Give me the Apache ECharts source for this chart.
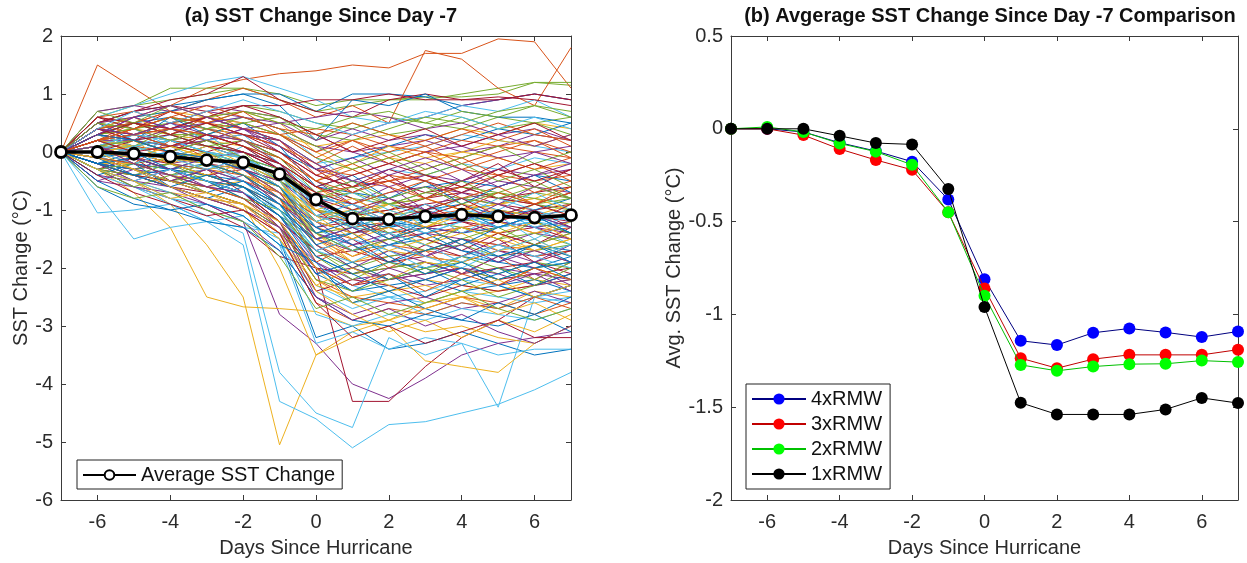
<!DOCTYPE html>
<html><head><meta charset="utf-8">
<script src="https://cdn.jsdelivr.net/npm/echarts@6/dist/echarts.min.js"></script>
<style>html,body{margin:0;padding:0;background:#fff}#c{width:1247px;height:563px}</style>
</head><body><div id="c"></div>
<script>
// ---------- DATA ----------
const days = [-7,-6,-5,-4,-3,-2,-1,0,1,2,3,4,5,6,7];
const xTickLabels = [-6,-4,-2,0,2,4,6];

// (a) average SST change
const avgChange = [0,0.0,-0.03,-0.08,-0.14,-0.18,-0.38,-0.82,-1.15,-1.16,-1.11,-1.08,-1.11,-1.13,-1.09];

// (b) average SST change by radius
const rmw4 = [0,0.0,-0.017,-0.075,-0.12,-0.177,-0.381,-0.81,-1.142,-1.165,-1.099,-1.076,-1.097,-1.122,-1.092];
const rmw3 = [0,0.0,-0.034,-0.109,-0.168,-0.221,-0.45,-0.86,-1.236,-1.29,-1.241,-1.218,-1.218,-1.218,-1.19];
const rmw2 = [0,0.01,-0.017,-0.079,-0.123,-0.194,-0.449,-0.90,-1.272,-1.304,-1.281,-1.268,-1.266,-1.249,-1.257];
const rmw1 = [0,0.0,0.0,-0.038,-0.077,-0.084,-0.324,-0.96,-1.476,-1.539,-1.539,-1.539,-1.512,-1.45,-1.478];

// (a) individual storm SST change tracks (estimated from the figure)
const stormTracks = [
  [0,-0.2,-0.4,-0.6,-0.8,-1.0,-1.5,-3.2,-3.0,-3.4,-3.3,-3.1,-3.3,-3.5,-3.4],
  [0,1.5,1.1,0.7,0.5,0.4,0.2,-0.2,-0.6,-0.5,-0.4,-0.6,-0.8,-0.9,-0.7],
  [0,-0.2,-0.5,-0.9,-1.6,-2.5,-5.05,-3.5,-3.1,-2.9,-2.6,-2.5,-2.7,-2.4,-2.5],
  [0,-0.2,-0.4,-0.6,-0.9,-1.2,-2.8,-3.3,-4.0,-4.25,-3.9,-3.5,-3.3,-3.2,-3.1],
  [0,0.7,0.8,0.9,1.0,1.1,1.0,0.8,0.9,0.9,0.95,0.95,1.0,1.2,1.15],
  [0,-0.3,-0.6,-0.9,-1.2,-1.6,-4.3,-4.6,-5.1,-4.7,-4.65,-4.5,-4.35,-4.1,-3.8],
  [0,-0.3,-0.6,-0.8,-1.0,-1.3,-1.8,-2.0,-4.3,-4.3,-3.7,-3.2,-2.9,-2.5,-2.3],
  [0,0.5,0.7,0.8,0.9,1.0,1.0,0.7,1.0,1.0,0.95,0.8,0.9,1.0,0.9],
  [0,0.4,0.6,0.8,1.1,1.25,1.35,1.4,1.5,1.45,1.7,1.7,1.95,1.9,1.1],
  [0,-0.3,-0.7,-1.3,-2.5,-2.67,-2.7,-2.75,-3.0,-2.9,-3.1,-3.0,-3.2,-3.3,-3.0],
  [0,0.3,0.5,0.4,0.6,0.5,0.3,0.0,0.3,0.5,0.6,0.8,0.9,1.0,0.9],
  [0,0.6,0.8,1.1,1.1,1.1,0.9,0.7,0.8,0.9,0.9,1.0,1.1,1.2,1.2],
  [0,-0.2,-0.5,-0.8,-1.1,-1.4,-3.8,-4.5,-4.75,-3.2,-3.5,-3.3,-4.4,-2.5,-2.3],
  [0,0.1,0.0,-0.1,-0.2,-0.3,-0.5,-0.9,-1.1,-1.0,-0.9,-0.8,-0.9,-1.0,-0.9],
  [0,-0.1,-0.2,-0.3,-0.2,-0.4,-0.6,-1.2,-1.4,-1.3,-1.2,-1.1,-1.2,-1.3,-1.2],
  [0,0.3,0.5,0.7,0.9,1.1,0.9,0.6,0.8,0.5,1.75,1.6,1.1,0.8,1.8],
  [0,-0.1,-0.3,-0.5,-0.7,-0.9,-2.0,-3.5,-3.2,-3.0,-3.6,-3.7,-3.8,-3.3,-3.0],
  [0,0.2,0.1,0.0,-0.1,0.0,-0.3,-0.8,-0.9,-0.7,-0.6,-0.7,-0.5,-0.6,-0.7],
  [0,0.3,0.2,0.1,0.0,-0.2,-0.4,-1.0,-1.3,-1.1,-1.0,-1.2,-1.1,-0.9,-1.0],
  [0,-1.05,-1.0,-0.9,-1.2,-1.3,-1.4,-2.3,-2.6,-2.5,-2.8,-2.6,-2.7,-2.5,-2.6],
  [0,-0.2,-0.1,-0.3,-0.4,-0.3,-0.7,-1.1,-1.2,-1.4,-1.3,-1.2,-1.4,-1.3,-1.5],
  [0,0.0,0.1,0.2,0.1,0.0,-0.2,-0.6,-0.7,-0.8,-0.6,-0.5,-0.6,-0.4,-0.5],
  [0,0.2,0.3,0.2,0.0,-0.1,-0.5,-1.3,-1.5,-1.2,-1.1,-1.0,-0.9,-1.1,-1.0],
  [0,-0.3,-0.4,-0.5,-0.6,-0.5,-0.8,-1.0,-1.1,-1.0,-1.2,-1.1,-1.0,-1.2,-1.1],
  [0,0.1,0.2,0.0,-0.1,-0.2,-0.6,-1.4,-1.6,-1.5,-1.3,-1.4,-1.2,-1.3,-1.4],
  [0,0.4,0.3,0.2,0.3,0.1,-0.1,-0.5,-0.8,-0.9,-0.7,-0.8,-0.9,-0.7,-0.8],
  [0,-0.7,-1.5,-1.3,-1.2,-1.1,-1.6,-3.3,-3.1,-3.4,-3.2,-3.3,-3.5,-3.4,-3.4],
  [0,-0.1,-0.3,-0.2,-0.4,-0.6,-0.9,-1.3,-1.2,-1.1,-1.3,-1.2,-1.3,-1.1,-1.2],
  [0,0.2,0.0,-0.1,0.1,-0.1,-0.3,-0.7,-1.0,-1.2,-1.0,-0.9,-1.1,-1.0,-0.8],
  [0,0.0,-0.2,-0.4,-0.3,-0.5,-0.7,-1.1,-1.3,-1.2,-1.4,-1.3,-1.2,-1.4,-1.3],
  [0,0.3,0.4,0.3,0.2,0.1,-0.2,-0.6,-1.0,-0.9,-0.8,-1.0,-0.9,-0.8,-0.6],
  [0,-0.2,-0.3,-0.1,-0.2,-0.4,-0.8,-1.5,-1.7,-1.5,-1.4,-1.5,-1.6,-1.4,-1.5],
  [0,0.1,0.1,0.2,0.0,-0.3,-0.6,-1.0,-1.1,-0.9,-1.0,-0.8,-0.7,-0.9,-0.8],
  [0,0.6,0.8,1.0,1.2,1.3,1.1,0.9,0.6,0.5,0.6,0.8,0.7,0.9,0.6],
  [0,0.2,0.3,0.4,0.3,0.2,0.0,-0.4,-0.6,-0.5,-0.7,-0.6,-0.8,-0.7,-0.6],
  [0,-0.1,0.0,-0.2,-0.3,-0.2,-0.5,-0.9,-1.2,-1.3,-1.1,-1.2,-1.0,-1.1,-1.3],
  [0,0.3,0.1,0.0,-0.2,-0.4,-0.7,-1.2,-1.4,-1.3,-1.5,-1.3,-1.4,-1.6,-1.4],
  [0,0.0,-0.1,-0.3,-0.5,-0.6,-0.9,-1.2,-1.0,-0.9,-0.8,-1.0,-0.9,-0.8,-1.0],
  [0,0.2,0.2,0.1,0.2,0.3,0.1,-0.3,-0.5,-0.6,-0.4,-0.5,-0.3,-0.4,-0.3],
  [0,-0.2,-0.4,-0.5,-0.4,-0.6,-1.0,-1.4,-1.3,-1.4,-1.2,-1.3,-1.5,-1.4,-1.6],
  [0,0.1,-0.1,0.0,-0.1,-0.2,-0.4,-0.8,-0.9,-1.1,-1.2,-1.0,-1.1,-1.2,-1.1],
  [0,0.4,0.5,0.3,0.1,0.0,-0.3,-0.9,-1.1,-1.0,-0.8,-0.7,-0.8,-0.9,-0.7],
  [0,-0.3,-0.2,-0.4,-0.5,-0.7,-1.1,-1.5,-1.4,-1.2,-1.3,-1.4,-1.3,-1.2,-1.4],
  [0,0.1,0.3,0.2,0.1,-0.1,-0.4,-0.7,-0.6,-0.4,-0.5,-0.3,-0.4,-0.5,-0.4],
  [0,0.0,0.1,-0.1,-0.3,-0.2,-0.6,-1.1,-1.0,-1.2,-1.1,-0.9,-1.0,-1.1,-0.9],
  [0,0.2,0.0,-0.2,-0.1,-0.3,-0.5,-1.0,-1.2,-1.1,-1.3,-1.4,-1.2,-1.3,-1.2],
  [0,-0.1,-0.2,-0.1,0.0,-0.2,-0.5,-0.8,-0.7,-0.9,-0.8,-0.6,-0.7,-0.8,-0.9],
  [0,0.3,0.2,0.3,0.1,-0.1,-0.3,-1.1,-1.3,-1.4,-1.2,-1.1,-1.3,-1.2,-1.3],
  [0,-0.2,-0.4,-0.5,-0.7,-0.9,-1.3,-2.0,-2.3,-2.2,-2.1,-2.0,-2.2,-2.1,-2.0],
  [0,-0.1,-0.2,-0.3,-0.4,-0.5,-0.9,-1.8,-2.1,-1.9,-2.0,-1.8,-1.9,-2.0,-1.8],
  [0,0.1,0.0,-0.2,-0.3,-0.4,-0.8,-1.6,-1.9,-1.8,-1.7,-1.8,-1.6,-1.7,-1.9],
  [0,-0.3,-0.5,-0.7,-0.8,-1.0,-1.5,-2.3,-2.5,-2.4,-2.2,-2.3,-2.4,-2.2,-2.3],
  [0,-0.2,-0.3,-0.4,-0.6,-0.7,-1.1,-1.9,-2.2,-2.1,-2.3,-2.2,-2.0,-2.1,-2.2],
  [0,0.2,0.1,-0.1,-0.2,-0.4,-0.9,-1.7,-2.0,-1.8,-1.7,-1.6,-1.8,-1.7,-1.6],
  [0,-0.4,-0.6,-0.8,-0.9,-1.1,-1.6,-2.4,-2.7,-2.5,-2.6,-2.4,-2.5,-2.6,-2.5],
  [0,0.0,-0.1,-0.2,-0.4,-0.6,-1.0,-1.8,-1.7,-1.9,-1.8,-1.9,-1.7,-1.8,-1.7],
  [0,-0.1,-0.3,-0.5,-0.6,-0.8,-1.2,-2.1,-2.4,-2.3,-2.2,-2.4,-2.3,-2.2,-2.4],
  [0,0.1,0.2,0.0,-0.1,-0.3,-0.7,-1.5,-1.8,-1.6,-1.7,-1.5,-1.6,-1.8,-1.7],
  [0,-0.2,-0.2,-0.4,-0.5,-0.7,-1.2,-2.2,-2.6,-2.4,-2.3,-2.5,-2.4,-2.3,-2.2],
  [0,-0.5,-0.6,-0.7,-0.9,-1.2,-1.7,-2.5,-2.8,-2.6,-2.5,-2.7,-2.6,-2.4,-2.6],
  [0,0.3,0.2,0.1,0.0,-0.2,-0.6,-1.6,-2.0,-2.2,-2.0,-1.9,-2.1,-1.9,-2.0],
  [0,-0.1,-0.2,-0.4,-0.3,-0.5,-1.0,-1.9,-2.3,-2.5,-2.4,-2.2,-2.3,-2.5,-2.4],
  [0,-0.3,-0.4,-0.6,-0.7,-0.9,-1.4,-2.0,-2.1,-2.0,-1.9,-2.1,-2.0,-1.9,-2.1],
  [0,0.0,-0.1,-0.3,-0.5,-0.6,-0.9,-1.4,-1.7,-1.6,-1.5,-1.7,-1.8,-1.6,-1.7],
  [0,-0.2,-0.4,-0.6,-0.8,-1.0,-1.4,-2.6,-2.9,-2.7,-2.8,-2.6,-2.7,-2.5,-2.7],
  [0,0.2,0.3,0.2,0.0,-0.1,-0.5,-1.4,-1.9,-1.7,-1.8,-1.9,-1.7,-1.6,-1.8],
  [0,-0.4,-0.5,-0.6,-0.8,-0.9,-1.3,-2.1,-2.0,-2.2,-2.1,-2.0,-2.1,-2.3,-2.2],
  [0,-0.1,-0.3,-0.2,-0.4,-0.6,-1.1,-1.7,-2.1,-2.0,-1.9,-2.0,-2.2,-2.0,-1.9],
  [0,-0.3,-0.5,-0.7,-1.0,-1.2,-1.5,-2.8,-3.0,-2.8,-2.9,-2.7,-2.8,-2.9,-2.7],
  [0,0.1,-0.1,-0.3,-0.5,-0.7,-1.2,-2.4,-2.2,-2.3,-2.5,-2.3,-2.4,-2.3,-2.1],
  [0,-0.6,-0.9,-1.0,-1.2,-1.3,-1.7,-2.5,-2.9,-3.0,-2.8,-2.9,-3.0,-2.8,-3.1],
  [0,-0.2,-0.3,-0.5,-0.6,-0.8,-1.3,-2.2,-2.5,-2.6,-2.7,-2.5,-2.6,-2.8,-2.6],
  [0,0.5,0.6,0.7,0.6,0.5,0.3,0.1,0.2,0.3,0.2,0.4,0.3,0.5,0.4],
  [0,0.7,0.8,0.7,0.8,0.7,0.6,0.3,0.0,0.1,0.2,0.0,0.1,0.3,0.2],
  [0,0.3,0.4,0.5,0.6,0.8,0.7,0.5,0.4,0.6,0.5,0.4,0.6,0.5,0.6],
  [0,0.2,0.3,0.2,0.4,0.3,0.2,-0.2,-0.1,0.0,0.1,0.3,0.2,0.1,0.0],
  [0,0.5,0.7,0.9,1.0,1.3,0.9,0.7,0.6,0.9,1.0,0.9,0.9,1.0,0.9],
  [0,0.4,0.6,0.7,0.9,1.0,0.8,0.2,0.9,0.8,1.0,0.7,0.6,0.6,0.5],
  [0,0.1,0.3,0.5,0.4,0.3,0.1,-0.3,-0.4,-0.2,0.0,-0.1,0.1,0.2,0.0],
  [0,0.6,0.5,0.4,0.6,0.7,0.5,0.0,-0.3,-0.1,-0.2,0.0,-0.1,-0.3,-0.2],
  [0,0.3,0.2,0.1,0.2,0.4,0.5,0.6,0.7,0.6,0.4,0.5,0.3,0.4,0.2],
  [0,0.4,0.5,0.3,0.3,0.5,0.6,0.3,0.2,0.4,0.6,0.5,0.7,0.8,0.6],
  [0,0.2,0.1,0.3,0.5,0.6,0.4,-0.1,-0.5,-0.3,-0.4,-0.2,-0.3,-0.1,-0.2],
  [0,0.5,0.7,0.8,0.7,0.8,0.8,0.9,0.9,1.0,0.9,0.9,0.95,0.9,0.8],
  [0,0.3,0.5,0.6,0.4,0.2,0.0,-0.3,-0.1,0.1,0.3,0.2,0.4,0.3,0.5],
  [0,0.6,0.7,0.5,0.6,0.4,0.3,0.4,0.3,0.1,0.0,0.2,0.1,0.0,-0.1],
  [0,0.1,0.2,0.4,0.3,0.2,-0.1,-0.5,-0.2,0.1,-0.1,0.0,0.2,0.1,0.3],
  [0,0.4,0.3,0.5,0.7,0.6,0.4,0.1,0.0,-0.2,0.0,0.1,-0.1,0.0,0.1],
  [0,0.5,0.4,0.6,0.5,0.7,0.6,0.2,0.5,0.3,0.4,0.6,0.4,0.5,0.3],
  [0,0.2,0.4,0.1,0.3,-0.1,-0.4,-1.1,-0.9,-1.3,-1.0,-1.4,-1.1,-1.5,-1.2],
  [0,-0.3,-0.1,-0.5,-0.3,-0.7,-1.2,-1.7,-1.5,-1.9,-1.6,-1.8,-1.5,-1.9,-1.7],
  [0,0.5,0.2,0.6,0.3,0.5,0.1,-0.6,-0.4,-0.8,-0.5,-0.9,-0.6,-0.4,-0.7],
  [0,0.1,-0.2,0.2,-0.1,-0.3,-0.8,-1.9,-1.6,-2.0,-1.7,-2.1,-1.8,-2.2,-1.9],
  [0,0.4,0.6,0.3,0.5,0.2,-0.2,-0.8,-1.2,-0.9,-1.3,-1.0,-1.2,-0.9,-1.1],
  [0,-0.2,-0.5,-0.3,-0.6,-0.4,-0.9,-1.6,-2.0,-1.7,-1.9,-2.1,-1.8,-2.0,-2.3],
  [0,0.3,0.1,0.4,0.2,0.0,-0.5,-1.2,-1.0,-1.4,-1.6,-1.3,-1.5,-1.2,-1.4],
  [0,0.0,0.3,0.1,-0.2,0.1,-0.3,-0.9,-1.3,-1.1,-1.4,-1.2,-1.0,-1.3,-1.6],
  [0,0.6,0.4,0.7,0.5,0.3,0.2,-0.3,-0.7,-0.4,-0.8,-0.5,-0.2,-0.6,-0.3],
  [0,-0.4,-0.2,-0.6,-0.8,-0.6,-1.1,-2.0,-2.4,-2.1,-2.5,-2.2,-2.0,-2.3,-2.1],
  [0,0.2,0.5,0.3,0.6,0.4,0.2,-0.4,-0.2,-0.5,-0.3,-0.1,-0.4,-0.2,-0.5],
  [0,-0.1,0.2,-0.2,0.0,-0.4,-0.7,-1.4,-1.8,-1.5,-1.3,-1.6,-1.4,-1.7,-1.5],
  [0,0.3,0.6,0.4,0.2,0.4,0.0,-0.5,-0.9,-0.6,-1.0,-0.7,-0.9,-0.6,-0.8],
  [0,-0.3,-0.4,-0.2,-0.5,-0.8,-1.0,-1.8,-2.2,-1.9,-2.1,-1.8,-2.0,-2.2,-1.9],
  [0,0.1,0.3,0.5,0.2,0.3,-0.2,-0.7,-0.5,-0.9,-1.1,-0.8,-1.0,-0.7,-1.0],
  [0,0.4,0.2,0.0,0.3,0.1,-0.3,-1.0,-1.4,-1.2,-1.5,-1.7,-1.4,-1.6,-1.3],
  [0,-0.2,0.0,-0.3,-0.1,-0.3,-0.6,-1.3,-1.1,-1.5,-1.2,-1.0,-1.3,-1.1,-1.4],
  [0,0.5,0.3,0.5,0.7,0.4,0.3,0.0,0.2,-0.1,0.1,-0.2,0.0,0.2,-0.1],
  [0,0.2,0.0,-0.2,-0.4,-0.2,-0.6,-1.5,-1.9,-2.2,-1.9,-2.0,-2.3,-2.0,-2.2],
  [0,-0.1,-0.3,-0.5,-0.3,-0.5,-0.8,-1.2,-1.6,-1.4,-1.8,-1.5,-1.7,-1.9,-1.6],
  [0,0.3,0.4,0.6,0.4,0.6,0.4,0.1,-0.2,0.0,-0.3,-0.1,0.1,-0.2,0.0],
  [0,0.0,-0.2,0.0,-0.2,-0.5,-0.9,-1.7,-1.5,-1.7,-2.0,-1.8,-1.6,-1.8,-2.0],
  [0,0.4,0.3,0.1,0.0,0.2,-0.1,-0.6,-0.8,-1.1,-0.9,-1.2,-1.0,-1.2,-0.9],
  [0,-0.2,-0.1,-0.3,-0.5,-0.8,-1.2,-2.1,-1.9,-2.2,-2.0,-2.3,-2.1,-1.9,-2.2],
  [0,0.2,0.4,0.2,0.4,0.2,0.0,-0.5,-0.3,-0.6,-0.8,-0.6,-0.4,-0.7,-0.5],
  [0,0.1,-0.1,0.1,-0.1,-0.2,-0.5,-1.1,-1.5,-1.3,-1.6,-1.4,-1.7,-1.5,-1.8],
  [0,0.5,0.6,0.4,0.5,0.6,0.5,0.2,0.4,0.2,0.3,0.1,0.3,0.1,0.3],
  [0,-0.3,-0.6,-0.4,-0.7,-0.9,-1.3,-2.2,-2.4,-2.2,-2.0,-2.2,-2.5,-2.3,-2.0],
  [0,0.3,0.1,0.2,0.0,-0.1,-0.4,-0.9,-0.7,-1.0,-1.2,-1.1,-0.8,-1.0,-1.2],
  [0,0.0,0.2,0.0,0.2,0.0,-0.2,-0.8,-1.0,-0.8,-1.1,-0.9,-1.2,-1.0,-1.3],
  [0,-0.1,-0.4,-0.6,-0.4,-0.6,-1.0,-1.5,-1.3,-1.6,-1.4,-1.7,-1.9,-1.6,-1.8],
  [0,0.4,0.5,0.7,0.5,0.3,0.1,-0.2,0.1,-0.2,0.0,-0.3,-0.1,-0.3,-0.1],
  [0,0.2,0.1,-0.1,0.1,-0.2,-0.4,-1.0,-1.2,-1.5,-1.3,-1.1,-1.4,-1.2,-1.5],
  [0,-0.5,-0.3,-0.6,-0.8,-1.0,-1.3,-1.9,-2.3,-2.0,-2.2,-2.0,-2.3,-2.1,-2.4],
  [0,0.3,0.5,0.3,0.1,0.2,-0.1,-0.7,-0.5,-0.8,-0.6,-0.9,-0.7,-0.5,-0.8],
  [0,0.1,0.0,0.2,0.0,-0.1,-0.5,-1.3,-1.7,-1.4,-1.6,-1.9,-1.6,-1.8,-1.6],
  [0,0.6,0.5,0.3,0.5,0.3,0.0,-0.4,-0.6,-0.3,-0.5,-0.7,-0.4,-0.2,-0.4],
  [0,-0.2,-0.3,-0.5,-0.7,-0.5,-0.9,-1.6,-1.4,-1.8,-2.1,-1.9,-2.2,-2.0,-1.9],
  [0,0.2,0.3,0.1,0.3,0.1,-0.2,-0.6,-0.9,-0.7,-0.5,-0.8,-0.6,-0.9,-0.7],
  [0,0.0,-0.1,0.1,-0.1,-0.3,-0.7,-1.2,-1.4,-1.7,-1.5,-1.3,-1.5,-1.7,-1.5],
  [0,0.3,0.2,0.4,0.6,0.4,0.1,-0.3,-0.1,-0.4,-0.2,-0.5,-0.3,0.0,-0.2],
  [0,-0.3,-0.2,-0.4,-0.2,-0.4,-0.8,-1.4,-1.7,-1.5,-1.7,-1.5,-1.3,-1.6,-1.4],
  [0,0.1,0.3,0.2,0.0,-0.2,-0.6,-1.2,-1.0,-1.2,-0.9,-1.1,-1.3,-1.1,-1.0],
  [0,0.4,0.2,0.3,0.1,0.0,-0.3,-0.7,-0.9,-1.2,-1.0,-0.8,-1.1,-0.9,-1.1],
  [0,-0.2,-0.4,-0.3,-0.5,-0.7,-1.1,-1.8,-2.1,-2.4,-2.2,-2.0,-2.3,-2.5,-2.3],
  [0,0.2,0.4,0.6,0.8,0.6,0.4,0.3,0.5,0.3,0.1,0.3,0.5,0.3,0.2],
  [0,0.0,0.1,-0.1,-0.2,-0.4,-0.6,-1.0,-0.8,-1.1,-1.3,-1.0,-1.2,-1.4,-1.2],
  [0,0.1,-0.1,-0.3,-0.1,-0.3,-0.7,-1.5,-1.3,-1.6,-1.8,-1.6,-1.9,-1.7,-1.9],
  [0,0.5,0.4,0.2,0.4,0.5,0.3,-0.1,-0.3,-0.1,-0.4,-0.2,-0.5,-0.3,-0.6],
  [0,-0.1,0.1,-0.1,-0.3,-0.1,-0.4,-1.1,-0.9,-1.2,-1.4,-1.2,-1.0,-1.3,-1.1],
  [0,0.3,0.5,0.4,0.6,0.8,0.6,0.3,0.0,0.2,0.4,0.1,0.3,0.5,0.2],
  [0,-0.2,-0.1,0.0,-0.2,-0.4,-0.8,-1.3,-1.6,-1.9,-1.7,-1.5,-1.8,-1.6,-1.9],
  [0,0.2,0.3,0.4,0.3,0.1,-0.1,-0.5,-0.7,-0.5,-0.8,-1.0,-0.7,-0.9,-0.6],
  [0,0.0,-0.3,-0.5,-0.7,-0.9,-1.4,-2.3,-2.0,-2.3,-2.6,-2.4,-2.2,-2.5,-2.3],
  [0,0.4,0.3,0.5,0.3,0.2,-0.2,-0.9,-1.1,-0.8,-1.0,-1.2,-0.9,-1.1,-1.3],
  [0,0.1,0.2,0.0,0.2,-0.1,-0.3,-0.8,-0.6,-0.9,-0.7,-0.5,-0.8,-0.6,-0.8],
  [0,-0.3,-0.5,-0.3,-0.5,-0.7,-1.0,-1.7,-1.9,-1.6,-1.8,-2.0,-1.7,-1.5,-1.8],
  [0,0.2,0.0,0.1,0.3,0.1,-0.2,-0.6,-0.4,-0.2,-0.4,-0.6,-0.3,-0.5,-0.3],
  [0,0.3,0.2,0.0,-0.1,-0.3,-0.6,-1.4,-1.2,-1.5,-1.3,-1.6,-1.3,-1.1,-1.4],
  [0,-0.1,-0.2,-0.4,-0.6,-0.8,-1.2,-2.0,-2.3,-2.1,-2.4,-2.1,-2.3,-2.0,-2.2],
  [0,-0.3,-0.5,-0.8,-0.7,-1.0,-1.5,-2.4,-2.8,-3.1,-2.9,-3.2,-2.9,-3.1,-2.8],
  [0,0.1,-0.2,-0.4,-0.6,-0.7,-1.3,-2.5,-2.9,-2.7,-3.0,-2.8,-3.1,-3.3,-3.0],
  [0,0.7,0.5,0.8,0.6,0.7,0.5,0.4,0.6,0.7,0.5,0.7,0.6,0.8,0.7],
  [0,0.4,0.7,0.5,0.7,0.9,0.7,0.5,0.3,0.5,0.7,0.6,0.4,0.6,0.4],
  [0,-0.4,-0.7,-0.9,-1.1,-1.0,-1.4,-2.6,-3.2,-3.0,-3.3,-3.1,-2.9,-3.2,-3.2],
  [0,-0.5,-0.8,-1.0,-0.9,-1.1,-1.6,-1.9,-2.6,-2.4,-2.7,-2.9,-2.6,-2.8,-2.5],
  [0,0.2,0.4,0.6,0.5,0.7,0.3,-0.1,0.2,0.0,0.2,0.4,0.2,0.4,0.1],
  [0,-0.1,-0.3,-0.6,-0.8,-0.9,-1.2,-2.0,-2.6,-2.9,-2.7,-2.5,-2.8,-2.6,-2.9],
  [0,0.3,0.6,0.8,0.6,0.4,0.2,-0.2,-0.5,-0.3,-0.1,-0.3,-0.6,-0.4,-0.2],
  [0,-0.6,-0.8,-0.7,-1.0,-1.2,-1.8,-2.7,-2.5,-2.8,-2.6,-2.4,-2.7,-2.9,-2.7]
];

// ---------- STYLE ----------
const palette = ['#0072BD','#D95319','#EDB120','#7E2F8E','#77AC30','#4DBEEE','#A2142F'];
const FONT = '"Liberation Sans", Arial, Helvetica, sans-serif';
const AX = '#3a3a3a';
const TXT = '#2b2b2b';
const FS = 20;

const pairs = ys => days.map((d, i) => [d, ys[i]]);

function xAxisDef(grid, bottom) {
  return {
    type: 'value', gridIndex: grid, min: -7, max: 7,
    position: bottom ? 'bottom' : 'top',
    axisLine: { show: true, onZero: false, lineStyle: { color: AX, width: 1 } },
    axisTick: { show: true, inside: true, length: 5, customValues: xTickLabels, lineStyle: { color: AX } },
    axisLabel: { show: bottom, customValues: xTickLabels, margin: 12, fontSize: FS, color: TXT, fontFamily: FONT },
    splitLine: { show: false },
    name: bottom ? 'Days Since Hurricane' : '',
    nameLocation: 'middle', nameGap: 38,
    nameTextStyle: { fontSize: FS, color: TXT, fontFamily: FONT }
  };
}
function yAxisDef(grid, left, min, max, interval, name, gap) {
  return {
    type: 'value', gridIndex: grid, min, max, interval,
    position: left ? 'left' : 'right',
    axisLine: { show: true, onZero: false, lineStyle: { color: AX, width: 1 } },
    axisTick: { show: true, inside: true, length: 5, lineStyle: { color: AX } },
    axisLabel: { show: left, margin: 8, fontSize: FS, color: TXT, fontFamily: FONT },
    splitLine: { show: false },
    name: left ? name : '',
    nameLocation: 'middle', nameGap: gap, nameRotate: 90,
    nameTextStyle: { fontSize: FS, color: TXT, fontFamily: FONT }
  };
}

const series = [];
stormTracks.forEach((t, i) => {
  series.push({
    type: 'line', xAxisIndex: 0, yAxisIndex: 0, data: pairs(t),
    symbol: 'none', silent: true, z: 2,
    lineStyle: { width: 1, color: palette[i % palette.length] }
  });
});
series.push({
  name: 'Average SST Change', type: 'line', xAxisIndex: 0, yAxisIndex: 0, data: pairs(avgChange),
  symbol: 'circle', symbolSize: 11, z: 10,
  lineStyle: { width: 3.5, color: '#000' },
  itemStyle: { color: '#fff', borderColor: '#000', borderWidth: 2.8 }
});
const rmwSets = [['4xRMW', rmw4, '#0000ff', '#000080'], ['3xRMW', rmw3, '#ff0000', '#c00000'],
                 ['2xRMW', rmw2, '#00ff00', '#00c000'], ['1xRMW', rmw1, '#000000', '#000000']];
rmwSets.forEach(([n, d, c, lc], i) => {
  series.push({
    name: n, type: 'line', xAxisIndex: 2, yAxisIndex: 2, data: pairs(d),
    symbol: 'circle', symbolSize: 12, z: 10 + i,
    lineStyle: { width: 1, color: lc },
    itemStyle: { color: c, borderWidth: 0 }
  });
});

const chart = echarts.init(document.getElementById('c'), null, { renderer: 'canvas' });
chart.setOption({
  animation: false,
  backgroundColor: '#fff',
  title: [
    { text: '(a) SST Change Since Day -7', left: 316, top: 1, textAlign: 'center',
      textStyle: { fontSize: 20, fontWeight: 'bold', color: '#111', fontFamily: FONT } },
    { text: '(b) Avgerage SST Change Since Day -7 Comparison', left: 985, top: 1, textAlign: 'center',
      textStyle: { fontSize: 20, fontWeight: 'bold', color: '#111', fontFamily: FONT } }
  ],
  grid: [
    { left: 61, top: 36, width: 510, height: 467, show: false },
    { left: 731, top: 36, width: 507, height: 467, show: false }
  ],
  xAxis: [xAxisDef(0, true), xAxisDef(0, false), xAxisDef(1, true), xAxisDef(1, false)],
  yAxis: [
    yAxisDef(0, true, -6, 2, 1, 'SST Change (°C)', 29),
    yAxisDef(0, false, -6, 2, 1, '', 0),
    yAxisDef(1, true, -2, 0.5, 0.5, 'Avg. SST Change (°C)', 47),
    yAxisDef(1, false, -2, 0.5, 0.5, '', 0)
  ],
  legend: [
    { data: ['Average SST Change'], left: 77, top: 460, padding: [5, 7, 4, 5],
      itemWidth: 53, itemHeight: 12, backgroundColor: '#fff', borderColor: '#222', borderWidth: 1, borderRadius: 0,
      textStyle: { fontSize: FS, color: '#111', fontFamily: FONT }, selectedMode: false },
    { data: ['4xRMW', '3xRMW', '2xRMW', '1xRMW'], orient: 'vertical', left: 746, top: 384,
      padding: [5, 8, 5, 5], itemGap: 5, itemWidth: 54, itemHeight: 14,
      backgroundColor: '#fff', borderColor: '#222', borderWidth: 1, borderRadius: 0,
      textStyle: { fontSize: FS, color: '#111', fontFamily: FONT }, selectedMode: false }
  ],
  series
});
</script>
</body></html>
